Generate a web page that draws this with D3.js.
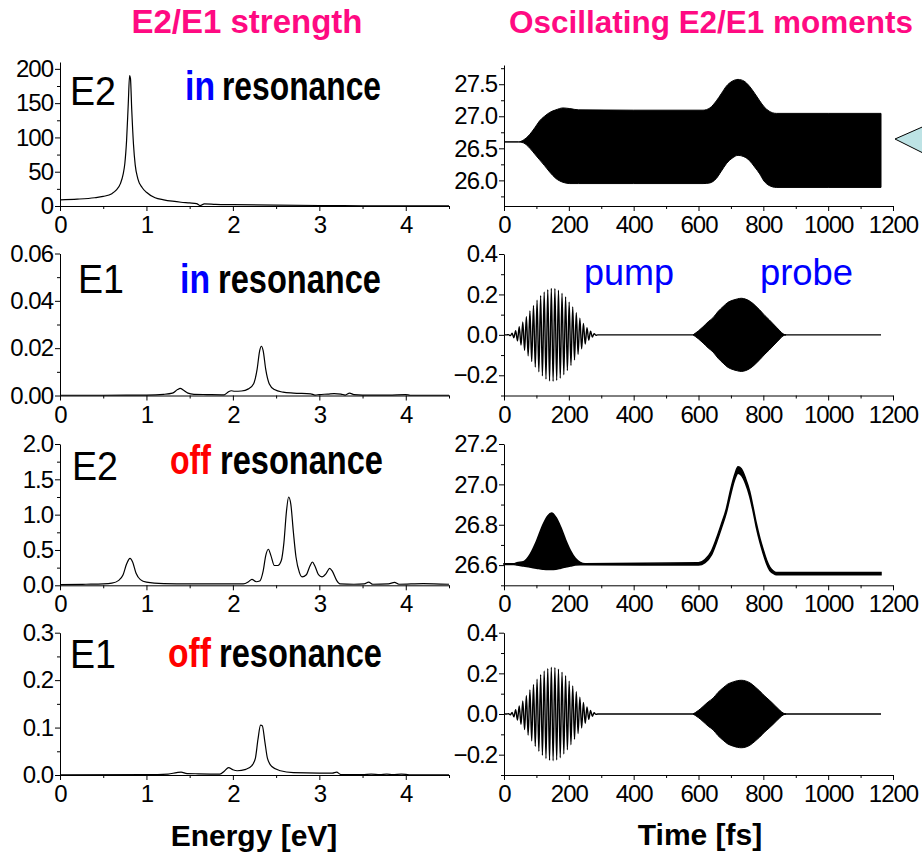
<!DOCTYPE html>
<html>
<head>
<meta charset="utf-8">
<script src="https://cdn.jsdelivr.net/npm/d3@7"></script>
<style>
  body { margin: 0; background: #fff; }
  svg { display: block; font-family: "Liberation Sans", Arial, Helvetica, sans-serif; }
</style>
</head>
<body>
<div id="chart"></div>
<script>
// ---- ticks ----
const energyTicks = [0, 1, 2, 3, 4];
const energyMinor = [0.5, 1.5, 2.5, 3.5, 4.5];
const timeTicks = [0, 200, 400, 600, 800, 1000, 1200];
const timeMinor = [100, 300, 500, 700, 900, 1100];

// ---- left column: strength functions [energy eV, strength] ----
const e2InRes = [
  [0, 9], [0.2, 10], [0.4, 12], [0.5, 14], [0.6, 18], [0.65, 23], [0.7, 33], [0.73, 46],
  [0.75, 62], [0.77, 95], [0.79, 150], [0.805, 190], [0.815, 186], [0.83, 140], [0.85, 90],
  [0.87, 60], [0.9, 40], [0.95, 27], [1.0, 20], [1.1, 12], [1.2, 9], [1.3, 7], [1.4, 5.5],
  [1.5, 4.5], [1.58, 3.5], [1.62, 0.6], [1.67, 3.2], [1.8, 2.5], [2.0, 2], [2.5, 1.3],
  [3.0, 0.7], [3.5, 0.4], [4.0, 0.3], [4.5, 0.2]
];
const e1InRes = [
  [0, 0.0001], [0.5, 0.0001], [1.0, 0.0002], [1.2, 0.0005], [1.3, 0.001], [1.36, 0.0025],
  [1.39, 0.003], [1.43, 0.0022], [1.48, 0.001], [1.55, 0.0005], [1.7, 0.0004], [1.9, 0.0003],
  [1.95, 0.0016], [1.98, 0.002], [2.02, 0.0018], [2.1, 0.0019], [2.18, 0.0028], [2.24, 0.005],
  [2.28, 0.011], [2.31, 0.019], [2.33, 0.0208], [2.35, 0.019], [2.38, 0.011], [2.42, 0.005],
  [2.48, 0.0025], [2.58, 0.0014], [2.7, 0.001], [2.9, 0.0007], [2.95, 0.0002], [3.0, 0.0004],
  [3.1, 0.0006], [3.17, 0.0008], [3.25, 0.0006], [3.3, 0.0002], [3.35, 0.001], [3.4, 0.0004],
  [3.5, 0.0002], [3.8, 0.0002], [4.0, 0.0004], [4.05, 0.0001], [4.5, 0.0001]
];
const e2OffRes = [
  [0, 0.01], [0.3, 0.015], [0.5, 0.02], [0.6, 0.03], [0.68, 0.07], [0.73, 0.15], [0.77, 0.3],
  [0.81, 0.38], [0.84, 0.33], [0.88, 0.17], [0.93, 0.08], [1.0, 0.045], [1.2, 0.025],
  [1.5, 0.02], [2.0, 0.02], [2.12, 0.02], [2.18, 0.05], [2.22, 0.085], [2.27, 0.05],
  [2.31, 0.06], [2.35, 0.2], [2.38, 0.42], [2.41, 0.51], [2.44, 0.42], [2.48, 0.28],
  [2.52, 0.28], [2.56, 0.35], [2.59, 0.6], [2.62, 1.05], [2.645, 1.25], [2.67, 1.15],
  [2.7, 0.75], [2.73, 0.4], [2.77, 0.18], [2.8, 0.12], [2.85, 0.15], [2.89, 0.27],
  [2.92, 0.33], [2.95, 0.27], [2.99, 0.15], [3.03, 0.12], [3.08, 0.17], [3.12, 0.24],
  [3.15, 0.2], [3.2, 0.07], [3.24, 0.02], [3.4, 0.015], [3.52, 0.02], [3.57, 0.045],
  [3.62, 0.015], [3.8, 0.02], [3.87, 0.04], [3.92, 0.015], [4.2, 0.025], [4.5, 0.015]
];
const e1OffRes = [
  [0, 0.0005], [1.0, 0.0008], [1.25, 0.002], [1.35, 0.005], [1.4, 0.006], [1.47, 0.003],
  [1.6, 0.0025], [1.85, 0.002], [1.9, 0.008], [1.95, 0.0155], [2.0, 0.011], [2.05, 0.009],
  [2.15, 0.012], [2.22, 0.02], [2.26, 0.035], [2.29, 0.075], [2.32, 0.105], [2.34, 0.104],
  [2.37, 0.07], [2.4, 0.035], [2.45, 0.018], [2.55, 0.009], [2.7, 0.005], [3.0, 0.004],
  [3.15, 0.004], [3.2, 0.006], [3.25, 0.001], [3.5, 0.001], [3.6, 0.002], [3.7, 0.001],
  [3.78, 0.002], [3.85, 0.0008], [3.95, 0.002], [4.0, 0.0015], [4.05, 0.0003], [4.5, 0.0003]
];

// ---- right column: moments vs time [fs] ----
// E2 moments, drawn as bands [t, lower, upper] (oscillation too dense to resolve)
const e2InResBand = [
  [0, 26.6, 26.6], [45, 26.6, 26.6], [60, 26.585, 26.63], [80, 26.5, 26.72], [95, 26.41, 26.82],
  [110, 26.32, 26.93], [125, 26.23, 27.0], [141, 26.13, 27.06], [160, 26.03, 27.1],
  [182, 25.97, 27.13], [203, 25.95, 27.12], [230, 25.95, 27.1], [400, 25.95, 27.095],
  [614, 25.95, 27.095], [635, 25.96, 27.13], [655, 26.03, 27.24], [670, 26.14, 27.35],
  [686, 26.26, 27.47], [705, 26.35, 27.55], [722, 26.39, 27.575], [740, 26.37, 27.55],
  [757, 26.31, 27.47], [773, 26.21, 27.36], [789, 26.1, 27.24], [802, 25.99, 27.15],
  [818, 25.92, 27.08], [840, 25.89, 27.045], [1000, 25.89, 27.045], [1163, 25.89, 27.045]
];
const e2OffResBand = [
  [0, 26.603, 26.607], [30, 26.603, 26.607], [40, 26.6, 26.612], [60, 26.595, 26.617],
  [80, 26.59, 26.652], [100, 26.585, 26.718], [120, 26.58, 26.8], [135, 26.578, 26.844],
  [147, 26.578, 26.858], [160, 26.58, 26.837], [175, 26.585, 26.788], [190, 26.59, 26.726],
  [205, 26.595, 26.672], [220, 26.6, 26.634], [235, 26.602, 26.614], [250, 26.602, 26.607],
  [600, 26.6, 26.612], [620, 26.612, 26.628], [640, 26.65, 26.67], [655, 26.71, 26.73],
  [670, 26.78, 26.8], [686, 26.86, 26.88], [700, 26.955, 26.98], [712, 27.025, 27.05],
  [722, 27.055, 27.087], [732, 27.045, 27.077], [745, 27.005, 27.03], [758, 26.94, 26.965],
  [768, 26.87, 26.89], [778, 26.79, 26.81], [790, 26.71, 26.73], [800, 26.655, 26.675],
  [810, 26.607, 26.625], [820, 26.573, 26.59], [830, 26.56, 26.572], [840, 26.552, 26.563],
  [1163, 26.552, 26.563]
];
// E1 moment during the pump: successive extrema [t, value]
const pumpE1 = [
  [0, 0], [8, 0], [14, 0.001], [19.5, -0.004], [25, 0.008], [30.5, -0.014], [36, 0.021],
  [41.5, -0.03], [47, 0.04], [52.5, -0.051], [58, 0.064], [63.5, -0.077], [69, 0.09],
  [74.5, -0.104], [80, 0.118], [85.5, -0.132], [91, 0.145], [96.5, -0.159], [102, 0.171],
  [107.5, -0.183], [113, 0.194], [118.5, -0.203], [124, 0.212], [129.5, -0.219], [135, 0.224],
  [140.5, -0.228], [146, 0.23], [151.5, -0.23], [157, 0.229], [162.5, -0.226], [168, 0.221],
  [173.5, -0.215], [179, 0.206], [184.5, -0.197], [190, 0.188], [195.5, -0.176], [201, 0.162],
  [206.5, -0.151], [212, 0.138], [217.5, -0.124], [223, 0.11], [228.5, -0.096], [234, 0.083],
  [239.5, -0.069], [245, 0.057], [250.5, -0.046], [256, 0.035], [261.5, -0.026], [267, 0.018],
  [272.5, -0.011], [278, 0.006], [283.5, -0.002], [289, 0], [1163, 0]
];
// E1 moment during the probe: envelope amplitude [t, amp]
const probeE1InRes = [
  [583, 0], [600, 0.02], [614, 0.04], [630, 0.065], [645, 0.085], [660, 0.115], [676, 0.14],
  [690, 0.16], [707, 0.172], [720, 0.178], [732, 0.181], [745, 0.177], [760, 0.165],
  [775, 0.145], [789, 0.123], [805, 0.095], [818, 0.075], [830, 0.055], [842, 0.035],
  [851, 0.02], [861, 0.005], [870, 0]
];
const probeE1OffRes = [
  [583, 0], [600, 0.018], [614, 0.037], [630, 0.06], [645, 0.078], [660, 0.106], [676, 0.129],
  [690, 0.147], [707, 0.158], [720, 0.164], [732, 0.166], [745, 0.163], [760, 0.152],
  [775, 0.133], [789, 0.113], [805, 0.087], [818, 0.069], [830, 0.051], [842, 0.032],
  [851, 0.018], [861, 0.005], [870, 0]
];

// ---- layout ----
const width = 922, height = 859;
const colL = [60, 449], colR = [504, 893];
const pink = '#ff0a82', blue = '#0000ff', red = '#ff0000';

const svg = d3.select('#chart').append('svg')
  .attr('width', width)
  .attr('height', height);
svg.append('rect').attr('width', width).attr('height', height).attr('fill', '#fff');

// one panel: axes with major + minor ticks, returns scales
function panel(xr, xDomain, xTicks, xMinor, yr, yDomain, yTicks, yMinor, yFmt) {
  const x = d3.scaleLinear().domain(xDomain).range(xr);
  const y = d3.scaleLinear().domain(yDomain).range(yr);
  const g = svg.append('g');

  // minor ticks first
  g.append('g').attr('transform', `translate(0,${yr[0]})`)
    .call(d3.axisBottom(x).tickValues(xMinor).tickSize(3).tickSizeOuter(0).tickFormat(''))
    .call(a => a.select('.domain').remove());
  g.append('g').attr('transform', `translate(${xr[0]},0)`)
    .call(d3.axisLeft(y).tickValues(yMinor).tickSize(3).tickSizeOuter(0).tickFormat(''))
    .call(a => a.select('.domain').remove());

  const xa = g.append('g').attr('transform', `translate(0,${yr[0]})`)
    .call(d3.axisBottom(x).tickValues(xTicks).tickSize(5).tickSizeOuter(0).tickPadding(5).tickFormat(d3.format('d')));
  const ya = g.append('g').attr('transform', `translate(${xr[0]},0)`)
    .call(d3.axisLeft(y).tickValues(yTicks).tickSize(5).tickSizeOuter(0).tickPadding(2).tickFormat(yFmt));

  [xa, ya].forEach(a => {
    a.attr('font-family', null).attr('font-size', null);
    a.selectAll('text').attr('font-size', 24).attr('letter-spacing', -1).attr('fill', '#000');
    a.selectAll('line, path').attr('stroke', '#000').attr('stroke-width', 1);
  });
  g.selectAll('line').attr('stroke', '#000');
  return { g, x, y };
}

const rows = [
  { bottom: 206, topL: 62, topR: 65 },
  { bottom: 395.5, topL: 253.5, topR: 254 },
  { bottom: 585.3, topL: 444, topR: 444 },
  { bottom: 775, topL: 632.7, topR: 632.7 }
];

// ---- left column ----
const leftSpecs = [
  { data: e2InRes, domain: [0, 210], ticks: [0, 50, 100, 150, 200], minor: d3.range(25, 210, 50), fmt: d3.format('d') },
  { data: e1InRes, domain: [0, 0.06], ticks: [0, 0.02, 0.04, 0.06], minor: [0.01, 0.03, 0.05], fmt: d3.format('.2f') },
  { data: e2OffRes, domain: [0, 2], ticks: [0, 0.5, 1, 1.5, 2], minor: [0.25, 0.75, 1.25, 1.75], fmt: d3.format('.1f') },
  { data: e1OffRes, domain: [0, 0.3], ticks: [0, 0.1, 0.2, 0.3], minor: [0.05, 0.15, 0.25], fmt: d3.format('.1f') }
];

leftSpecs.forEach((s, i) => {
  const r = rows[i];
  const p = panel(colL, [0, 4.5], energyTicks, energyMinor, [r.bottom, r.topL], s.domain, s.ticks, s.minor, s.fmt);
  const line = d3.line().x(d => p.x(d[0])).y(d => p.y(d[1])).curve(d3.curveMonotoneX);
  p.g.append('path').datum(s.data)
    .attr('d', line)
    .attr('fill', 'none')
    .attr('stroke', '#000')
    .attr('stroke-width', 1.2);
});

// ---- right column ----
const rightSpecs = [
  { domain: [25.6, 27.8], ticks: [26, 26.5, 27, 27.5], minor: [25.75, 26.25, 26.75, 27.25, 27.75], fmt: d3.format('.1f'), band: e2InResBand },
  { domain: [-0.3, 0.4], ticks: [-0.2, 0, 0.2, 0.4], minor: [-0.3, -0.1, 0.1, 0.3], fmt: d3.format('.1f'), probe: probeE1InRes },
  { domain: [26.5, 27.2], ticks: [26.6, 26.8, 27.0, 27.2], minor: [26.5, 26.7, 26.9, 27.1], fmt: d3.format('.1f'), band: e2OffResBand },
  { domain: [-0.3, 0.4], ticks: [-0.2, 0, 0.2, 0.4], minor: [-0.3, -0.1, 0.1, 0.3], fmt: d3.format('.1f'), probe: probeE1OffRes }
];

rightSpecs.forEach((s, i) => {
  const r = rows[i];
  const p = panel(colR, [0, 1200], timeTicks, timeMinor, [r.bottom, r.topR], s.domain, s.ticks, s.minor, s.fmt);
  if (s.band) {
    const area = d3.area().x(d => p.x(d[0])).y0(d => p.y(d[1])).y1(d => p.y(d[2])).curve(d3.curveMonotoneX);
    p.g.append('path').datum(s.band)
      .attr('d', area)
      .attr('fill', '#000')
      .attr('stroke', '#000')
      .attr('stroke-width', i === 2 ? 1.5 : 1);
  } else {
    // pump: resolved oscillation
    const line = d3.line().x(d => p.x(d[0])).y(d => p.y(d[1])).curve(d3.curveMonotoneX);
    p.g.append('path').datum(pumpE1)
      .attr('d', line)
      .attr('fill', 'none')
      .attr('stroke', '#000')
      .attr('stroke-width', 1.4);
    // probe: envelope only, too dense to resolve
    const area = d3.area().x(d => p.x(d[0])).y0(d => p.y(-d[1])).y1(d => p.y(d[1])).curve(d3.curveMonotoneX);
    p.g.append('path').datum(s.probe)
      .attr('d', area)
      .attr('fill', '#000')
      .attr('stroke', '#000')
      .attr('stroke-width', 1);
  }
});

// ---- texts ----
function text(x, y, str, size, weight, color, anchor, len) {
  const t = svg.append('text')
    .attr('x', x).attr('y', y)
    .attr('font-size', size)
    .attr('font-weight', weight)
    .attr('fill', color)
    .attr('text-anchor', anchor || 'start')
    .text(str);
  if (len) t.attr('textLength', len).attr('lengthAdjust', 'spacingAndGlyphs');
  return t;
}

// column titles
text(247, 33, 'E2/E1 strength', 33, 'bold', pink, 'middle');
text(509, 33, 'Oscillating E2/E1 moments', 32, 'bold', pink, 'start', 404);

// panel tags
const tagNames = ['E2', 'E1', 'E2', 'E1'];
const tagPos = [[70, 105], [78, 293], [72, 480], [70, 668]];
const tagWord = ['in', 'in', 'off', 'off'];
const wordPos = [[185, 30, 222, 159, 99.5], [180, 30, 218, 163, 292.5], [170, 41, 220, 163, 474], [168, 43, 219, 163, 666.5]];
tagNames.forEach((n, i) => {
  text(tagPos[i][0], tagPos[i][1], n, 41, 'normal', '#000', 'start', 46);
  const w = wordPos[i];
  text(w[0], w[4], tagWord[i], 40, 'bold', i < 2 ? blue : red, 'start', w[1]);
  text(w[2], w[4], 'resonance', 40, 'bold', '#000', 'start', w[3]);
});

text(584, 285, 'pump', 36, 'normal', blue, 'start', 90);
text(760, 285, 'probe', 36, 'normal', blue, 'start', 93);

// axis titles
text(254, 846, 'Energy [eV]', 30, 'bold', '#000', 'middle');
text(700, 845, 'Time [fs]', 30, 'bold', '#000', 'middle');

// arrow marker at the right edge
svg.append('path')
  .attr('d', 'M895,139 L945,117 L945,164 Z')
  .attr('fill', '#bde3e5')
  .attr('stroke', '#000')
  .attr('stroke-width', 1);
</script>
</body>
</html>
